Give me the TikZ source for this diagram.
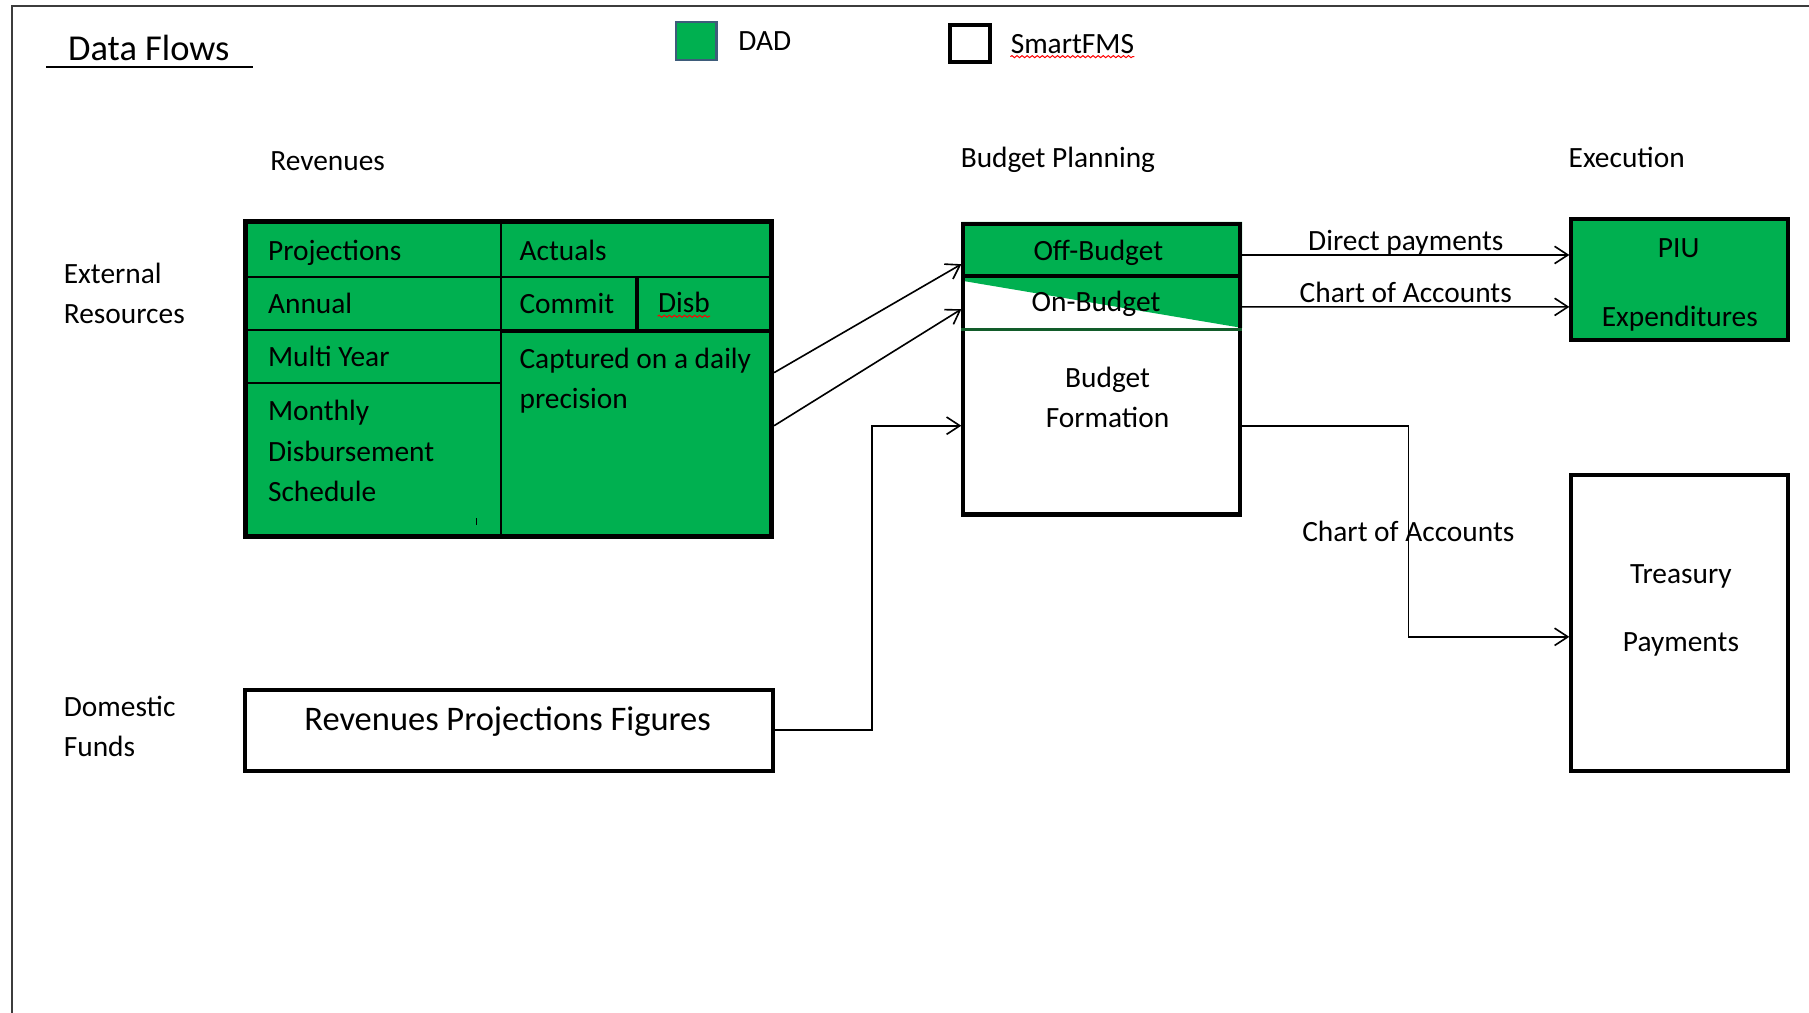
\documentclass[tikz,border=0pt]{standalone}
\usepackage{fontspec}
\setmainfont{Carlito}
\usetikzlibrary{arrows.meta,positioning,calc,backgrounds,decorations.pathmorphing}
\definecolor{dadgreen}{RGB}{0,176,80}
\definecolor{legendedge}{RGB}{62,92,122}
\definecolor{rowline}{RGB}{18,92,42}
\definecolor{framegray}{RGB}{60,60,60}
\tikzset{
    %Define standard arrow tip
    >={Straight Barb[length=2.3mm,width=3mm]},
    font=\fontsize{14.5}{20}\selectfont,
    %Define style for boxes
    rechteck/.style={
           rectangle,
           draw=black, line width=2pt,
           inner sep=0pt},
    gruen/.style={rechteck, fill=dadgreen},
    % Define text styles
    txt/.style={inner sep=0pt, text height=2.3ex, text depth=.25ex, align=center},
    zelle/.style={txt, anchor=west, align=left},
    zeilen/.style={inner sep=0pt, anchor=west, align=left},
    % Define arrow style
    pil/.style={
	   ->,
	   line width=0.8pt},
    teil/.style={line width=1.1pt},
    wavy/.style={red, line width=0.5pt, decorate,
           decoration={snake, amplitude=0.5pt, segment length=2.5pt}},
    rahmen/.style={draw=framegray, line width=1pt}
}

\begin{document}
\begin{tikzpicture}[x=0.02cm, y=-0.02cm]
  \useasboundingbox (0,0) rectangle (1568,878);
  \draw[rahmen] (1568,5) -- (10,5) -- (10,878);

  % title and legend
  \node[txt, font=\fontsize{18}{22}\selectfont] (title) at (129,44) {Data Flows};
  \draw[line width=1.2pt] (40,58) -- (219,58);
  \node[gruen, draw=legendedge, line width=1.3pt, minimum width=0.70cm, minimum height=0.66cm] (legdad) at (603.5,35.5) {};
  \node[zelle, right=0.35cm of legdad] (legdadtxt) {DAD};
  \node[rechteck, minimum width=0.70cm, minimum height=0.64cm] (legfms) at (841,37.5) {};
  \node[zelle, right=0.31cm of legfms] (legfmstxt) {SmartFMS};
  \draw[wavy] ($(legfmstxt.base west)+(0,3)$) -- ($(legfmstxt.base east)+(0,3)$);

  % column and row headers
  \node[txt] (hrev) at (284,139) {Revenues};
  \node[txt] (hbud) at (917,137) {Budget Planning};
  \node[txt] (hexe) at (1410,137) {Execution};
  \node[zeilen] (ext) at (55,254.5) {External\\Resources};
  \node[zeilen] (domtxt) at (55,629.5) {Domestic\\Funds};

  % revenues table
  \node[gruen, line width=2.3pt, minimum width=9.12cm, minimum height=5.46cm] (rev) at (441,328.5) {};
  \draw[teil] (434,192) -- (434,465);
  \draw[teil] (213,240) -- (669,240);
  \draw[teil] (213,286) -- (434,286);
  \draw[teil] (213,332) -- (434,332);
  \draw[line width=1.7pt] (434,287) -- (669,287);
  \draw[line width=1.7pt] (552,240) -- (552,287);
  \draw[line width=0.5pt] (413,449) -- (413,455);
  \node[zelle] (proj) at (232,217) {Projections};
  \node[zelle] (act) at (450,217) {Actuals};
  \node[zelle] (ann) at (232,263) {Annual};
  \node[zelle] (com) at (450,263) {Commit};
  \node[zelle] (disb) at (570,262) {Disb};
  \draw[wavy] ($(disb.base west)+(0,3.5)$) -- ($(disb.base east)+(0,3.5)$);
  \node[zelle] (multi) at (232,309) {Multi Year};
  \node[zeilen] (capt) at (450,330) {Captured on a daily\\precision};
  \node[zeilen] (month) at (232,391) {Monthly\\Disbursement\\Schedule};

  % domestic revenues
  \node[rechteck, minimum width=9.16cm, minimum height=1.40cm] (dom) at (441,633) {};
  \node[txt, font=\fontsize{17}{20}\selectfont] (domlbl) at (440,625) {Revenues Projections Figures};

  % budget planning
  \node[rechteck, minimum width=4.8cm, minimum height=5.04cm] (bud) at (955,320) {};
  \begin{scope}[on background layer]
    \fill[dadgreen] (bud.north west) -- (bud.north east) -- ($(bud.north east)+(0,92)$)
      -- ($(bud.north west)+(0,51)$) -- cycle;
  \end{scope}
  \draw[line width=1.7pt] ($(bud.north west)+(0,47)$) -- ($(bud.north east)+(0,47)$);
  \draw[rowline, line width=1.2pt] ($(bud.north west)+(0,93.5)$) -- ($(bud.north east)+(0,93.5)$);
  \node[txt] (off) at (952,217) {Off-Budget};
  \node[txt] (on) at (950,261) {On-Budget};
  \node[zeilen, anchor=center, align=center] (form) at (960,344.5) {Budget\\Formation};

  % execution
  \node[gruen, minimum width=3.76cm, minimum height=2.10cm] (piu) at (1456,242.5) {};
  \node[txt] (piua) at (1455,215) {PIU};
  \node[txt] (piub) at (1456,274) {Expenditures};
  \node[rechteck, minimum width=3.76cm, minimum height=5.12cm] (tre) at (1456,540) {};
  \node[txt] (trea) at (1457,497) {Treasury};
  \node[txt] (treb) at (1457,556) {Payments};

  % data flows
  \draw[pil] ($(rev.east)+(0,-5.5)$) -- ($(bud.west)+(0,-91)$);
  \draw[pil] ($(rev.east)+(0,40.5)$) -- ($(bud.west)+(0,-52)$);
  \draw[pil] (dom.east) -- ++(84,0) |- ($(bud.west)+(0,49)$);
  \draw[pil] ($(bud.east)+(0,-99)$) -- node[txt, above=0.5pt] {Direct payments} ($(piu.west)+(0,-21.5)$);
  \draw[pil] ($(bud.east)+(0,-54)$) -- node[txt, above=0.5pt] {Chart of Accounts} ($(piu.west)+(0,23.5)$);
  \draw[pil] ($(bud.east)+(0,49)$) -- ++(144,0) |- node[txt, pos=0.25] {Chart of Accounts} ($(tre.west)+(0,12)$);
\end{tikzpicture}
\end{document}
